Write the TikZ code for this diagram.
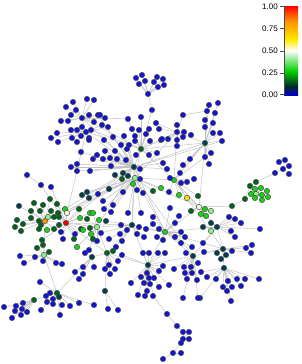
\documentclass[tikz,border=0pt]{standalone}
\usepackage{fontspec}
\setmainfont{Liberation Sans}
\usetikzlibrary{backgrounds}

\definecolor{nB}{RGB}{20,20,215}
\definecolor{nT}{RGB}{0,62,82}
\definecolor{nD}{RGB}{0,100,30}
\definecolor{nG}{RGB}{25,210,25}
\definecolor{nL}{RGB}{135,245,135}
\definecolor{nP}{RGB}{238,250,212}
\definecolor{nY}{RGB}{250,225,0}
\definecolor{nO}{RGB}{255,150,0}
\definecolor{nR}{RGB}{240,0,0}
\definecolor{cbB}{RGB}{0,0,200}
\definecolor{cbK}{RGB}{0,45,35}
\definecolor{cbG}{RGB}{0,210,0}
\definecolor{cbY}{RGB}{255,235,0}
\definecolor{cbO}{RGB}{255,140,0}
\definecolor{cbR}{RGB}{255,0,0}
\pgfdeclareverticalshading{cbar}{100bp}{color(0bp)=(cbB); color(25bp)=(cbB); color(30bp)=(cbK); color(38.5bp)=(cbG); color(50bp)=(white); color(56bp)=(cbY); color(67bp)=(cbO); color(75bp)=(cbR); color(100bp)=(cbR)}

\begin{document}
\begin{tikzpicture}[x=1pt, y=-1pt,
  dot/.style={circle,draw=black!75,line width=0.45pt,inner sep=0pt,minimum size=5.4pt},
  edge/.style={draw=black!25,line width=0.45pt},
  ticklab/.style={anchor=east,inner sep=0pt,font=\fontsize{8}{9}\selectfont}]
  \useasboundingbox (0,0) rectangle (302,364);

  % colour bar
  \shade[shading=cbar] (284,6) rectangle (298,95);
  \draw[black!70,line width=0.4pt] (284,6) -- (284,95);
  \foreach \v/\y in {1.00/6.5, 0.75/28.6, 0.50/50.7, 0.25/72.8, 0.00/94.6}{
    \draw[black!70,line width=0.4pt] (280,\y) -- (284,\y);
    \node[ticklab] (lab\v) at (278,\y) {\v};
  }

  % clusters, first node of each list is its hub
  \foreach \x/\y/\c [count=\i] in {148/94/B, 136/78/B, 142/75/B, 145/81/B, 139/84/B, 157/77/B, 163/79/B, 154/82/B, 164/85/B, 158/87/B}
    \node[dot,fill=n\c] (top\i) at (\x,\y) {};
  \foreach \x/\y/\c [count=\i] in {82/118/B, 73/102/B, 87/99/B, 94/100/B, 66/107/B, 76/110/B, 71/115/B, 89/115/B, 98/115/B, 61/121/B, 68/121/B, 94/122/B, 100/115/B, 105/118/B}
    \node[dot,fill=n\c] (ula\i) at (\x,\y) {};
  \foreach \x/\y/\c [count=\i] in {86/132/B, 82/127/B, 71/130/B, 77/130/B, 91/130/B, 57/133/B, 51/138/B, 81/136/B, 72/138/B, 89/138/B, 58/142/B, 77/142/B, 89/140/B, 102/125/B, 108/127/B}
    \node[dot,fill=n\c] (ulb\i) at (\x,\y) {};
  \foreach \x/\y/\c [count=\i] in {134/167/T, 113/137/B, 124/136/B, 104/140/B, 121/145/B, 129/145/B, 127/149/B, 105/151/B, 115/151/B, 103/159/B, 110/158/B, 117/159/B, 126/160/B, 111/166/B, 97/155/B, 93/159/B, 81/152/B, 140/169/B, 123/173/T, 128/176/T, 115/175/T, 122/179/D, 140/179/B, 163/163/B, 167/169/B, 77/164/B, 71/167/B, 77/171/B, 90/171/B}
    \node[dot,fill=n\c] (cen\i) at (\x,\y) {};
  \foreach \x/\y/\c [count=\i] in {141/149/D, 135/141/B, 150/141/B, 136/155/B, 149/155/B, 157/153/B, 161/140/B, 132/129/B, 139/130/B, 149/129/B, 135/136/B, 146/134/B, 128/119/B, 141/117/B, 152/110/B}
    \node[dot,fill=n\c] (mid\i) at (\x,\y) {};
  \foreach \x/\y/\c [count=\i] in {177/132/B, 177/125/B, 184/132/B, 191/135/B, 183/137/B, 162/139/B, 168/139/B, 177/140/B, 177/146/B, 183/115/B, 156/123/B, 159/129/B}
    \node[dot,fill=n\c] (rt\i) at (\x,\y) {};
  \foreach \x/\y/\c [count=\i] in {205/143/T, 209/105/B, 218/103/B, 207/111/B, 215/113/B, 205/120/B, 213/123/B, 205/127/B, 213/133/B, 220/133/B, 222/141/B, 211/153/B, 205/157/B, 209/164/B, 190/159/B, 183/165/B}
    \node[dot,fill=n\c] (ne\i) at (\x,\y) {};
  \foreach \x/\y/\c [count=\i] in {135/178/L, 133/184/G, 109/189/T, 123/192/B, 137/190/B, 143/193/B, 153/191/D, 161/188/G, 87/192/T, 82/195/T, 89/198/T, 98/194/B, 103/201/B, 113/205/B, 104/209/B, 111/212/B, 128/213/B, 141/213/B}
    \node[dot,fill=n\c] (lg\i) at (\x,\y) {};
  \foreach \x/\y/\c [count=\i] in {174/180/G, 181/183/B, 187/182/B, 180/173/B, 170/178/B, 169/192/B, 179/195/G, 187/198/Y, 194/179/B, 198/196/D}
    \node[dot,fill=n\c] (gm\i) at (\x,\y) {};
  \foreach \x/\y/\c [count=\i] in {199/207/P, 191/211/D, 205/209/G, 211/211/L, 201/214/G, 206/216/G, 232/206/D}
    \node[dot,fill=n\c] (pl\i) at (\x,\y) {};
  \foreach \x/\y/\c [count=\i] in {250/186/D, 256/182/D, 255/189/G, 261/188/G, 267/191/G, 251/194/G, 256/194/L, 262/195/G, 268/197/G, 255/198/G, 262/200/G, 245/199/D}
    \node[dot,fill=n\c] (rg\i) at (\x,\y) {};
  \foreach \x/\y/\c [count=\i] in {283/169/B, 279/162/B, 285/160/B, 289/166/B, 289/174/B, 275/173/B}
    \node[dot,fill=n\c] (fr\i) at (\x,\y) {};
  \foreach \x/\y/\c [count=\i] in {165/232/G, 153/224/B, 159/229/B, 146/229/B, 175/223/B, 181/232/B, 185/237/B, 157/237/B, 163/240/B, 175/237/B, 181/243/B, 192/247/B, 170/208/B, 179/216/B, 153/217/B}
    \node[dot,fill=n\c] (lc\i) at (\x,\y) {};
  \foreach \x/\y/\c [count=\i] in {132/225/T, 106/221/T, 121/225/B, 127/230/B, 139/227/B, 120/234/B, 122/241/B, 137/234/B, 144/237/B, 116/247/B, 109/239/B, 101/233/B}
    \node[dot,fill=n\c] (lt\i) at (\x,\y) {};
  \foreach \x/\y/\c [count=\i] in {217/227/T, 211/223/T, 203/227/T, 211/231/L, 229/217/B, 235/219/B, 241/223/B, 231/231/B, 235/237/B, 260/229/B, 203/243/B}
    \node[dot,fill=n\c] (rl\i) at (\x,\y) {};
  \foreach \x/\y/\c [count=\i] in {223/249/T, 217/253/T, 226/255/T, 221/259/T, 232/251/B, 246/248/B, 252/245/B, 251/253/B, 204/252/B}
    \node[dot,fill=n\c] (tc\i) at (\x,\y) {};
  \foreach \x/\y/\c [count=\i] in {224/268/T, 201/272/B, 207/277/B, 216/279/B, 228/281/B, 237/279/B, 245/279/B, 259/279/B, 223/287/B, 232/287/B, 241/286/B, 227/291/B, 231/301/B, 200/298/B}
    \node[dot,fill=n\c] (br\i) at (\x,\y) {};
  \foreach \x/\y/\c [count=\i] in {148/265/T, 143/253/B, 149/253/B, 158/253/B, 165/253/B, 163/266/B, 159/271/B, 147/273/B, 141/277/B, 149/278/B, 154/278/B, 144/283/B, 150/284/B, 159/287/B, 169/285/B, 131/283/B, 147/291/B, 138/295/B, 145/296/B, 153/296/B, 122/255/B}
    \node[dot,fill=n\c] (bc\i) at (\x,\y) {};
  \foreach \x/\y/\c [count=\i] in {167/314/B, 177/326/B}
    \node[dot,fill=n\c] (ch\i) at (\x,\y) {};
  \foreach \x/\y/\c [count=\i] in {183/339/B, 183/332/B, 189/332/B, 189/339/B, 181/343/B}
    \node[dot,fill=n\c] (tl\i) at (\x,\y) {};
  \foreach \x/\y/\c [count=\i] in {173/353/B, 181/353/B, 163/359/B}
    \node[dot,fill=n\c] (tb\i) at (\x,\y) {};
  \foreach \x/\y/\c [count=\i] in {193/256/T, 186/253/B, 174/269/B, 184/267/B, 191/267/B, 198/263/B, 185/273/B, 192/273/B, 187/279/B, 197/280/B, 183/298/B, 198/298/B}
    \node[dot,fill=n\c] (rb\i) at (\x,\y) {};
  \foreach \x/\y/\c [count=\i] in {107/253/D, 113/251/D, 109/265/B, 105/269/B, 115/269/B, 110/274/B, 118/261/B, 105/291/T}
    \node[dot,fill=n\c] (lb\i) at (\x,\y) {};
  \foreach \x/\y/\c [count=\i] in {108/309/B, 118/310/B}
    \node[dot,fill=n\c] (lz\i) at (\x,\y) {};
  \foreach \x/\y/\c [count=\i] in {45/221/O, 34/203/D, 43/205/D, 50/199/D, 31/211/D, 40/211/D, 51/211/D, 31/218/D, 17/220/D, 23/224/D, 15/227/D, 21/231/D, 39/221/D, 41/225/D, 47/230/G, 39/229/D, 48/217/L, 19/206/T, 54/229/D}
    \node[dot,fill=n\c] (og\i) at (\x,\y) {};
  \foreach \x/\y/\c [count=\i] in {66/223/R, 57/204/D, 58/213/D, 65/209/G, 67/213/P, 79/209/D, 54/217/D, 59/217/D, 59/225/D, 61/232/B, 63/239/B, 74/239/D, 75/234/B, 80/218/G, 90/213/G, 81/229/D, 42/240/D, 51/187/B, 41/185/B}
    \node[dot,fill=n\c] (rd\i) at (\x,\y) {};
  \node[dot,fill=nB] (lf1) at (27,175) {};
  \foreach \x/\y/\c [count=\i] in {97/227/L, 99/220/G, 93/213/G, 87/219/D, 83/230/G, 90/228/D, 91/234/G, 93/239/D, 89/250/B, 77/247/G, 97/241/B}
    \node[dot,fill=n\c] (gl\i) at (\x,\y) {};
  \foreach \x/\y/\c [count=\i] in {44/255/L, 20/256/B, 35/257/B, 24/263/B, 49/252/D, 43/261/B, 56/263/B, 62/264/B, 43/245/D, 37/248/D}
    \node[dot,fill=n\c] (hh\i) at (\x,\y) {};
  \foreach \x/\y/\c [count=\i] in {92/257/T, 85/253/B, 83/267/B, 94/267/B, 75/272/B, 83/274/B, 79/279/B}
    \node[dot,fill=n\c] (ii\i) at (\x,\y) {};
  \foreach \x/\y/\c [count=\i] in {57/293/D, 50/293/B, 46/296/B, 59/297/T, 53/299/B, 47/302/B, 53/304/B, 62/305/B, 70/306/B, 79/303/B, 94/305/B, 60/315/B, 41/310/B, 40/282/B}
    \node[dot,fill=n\c] (ff\i) at (\x,\y) {};
  \foreach \x/\y/\c [count=\i] in {34/300/D, 4/307/B, 16/306/B, 23/303/B, 15/311/B, 22/309/B, 27/312/B, 21/315/B, 12/318/B}
    \node[dot,fill=n\c] (gg\i) at (\x,\y) {};

  \begin{scope}[on background layer]
    % hub to members
    \foreach \g/\n in {top/10, ula/14, ulb/15, cen/29, mid/15, rt/12, ne/16, lg/18, gm/10, pl/7, rg/12, fr/6, lc/15, lt/12, rl/11, tc/9, br/14, bc/21, ch/2, tl/5, tb/3, rb/12, lb/8, og/19, rd/19, gl/11, hh/10, ii/7, ff/14, gg/9}
      \foreach \i in {2,...,\n}
        \draw[edge] (\g1) -- (\g\i);
    % links between clusters
    \foreach \a/\b in {top1/mid15, ula1/ulb1, ula1/cen1, ulb1/cen1, ulb1/mid1, ula14/mid13, mid1/cen1, mid1/rt1, rt1/ne1, rt10/ne4, ne1/gm1, ne1/cen1, cen1/lg1, lg1/gm1, gm1/pl1, gm8/pl1, pl7/rg12, rg2/fr6, pl1/rl1, rl1/tc1, tc1/br1, lg1/lc1, lg1/lt1, lc1/bc1, lc1/rb1, bc1/rb1, rb1/tc1, bc20/ch1, ch2/tl2, tl5/tb1, lt1/lb1, lb1/gl1, gl1/rd1, og1/rd1, rd5/lg1, rd5/cen1, og1/hh1, hh1/ff1, ff1/gg1, ii1/ff1, ii1/lb1, lb8/lz1, lb8/lz2, lb1/bc1, lf1/rd19, cen1/rd1, og1/cen1, lt1/lc1, cen1/lc1, mid1/gm1, ne1/pl1, lg1/og1, ulb1/rd5, gm1/rl1, pl1/lc1, cen1/ne11, mid1/ne1, lg1/rb1, rd1/lt1, gl1/lt1, lc1/rl1, ula1/mid1, cen1/lt1, cen1/gl1, mid1/lg1, rt1/gm1, lc1/tc1, bc1/lt1, rb1/rl1, lg1/pl1, ula9/cen1, ulb5/mid1, gm1/tc1, rt1/lg1, lb1/rd1, ne13/gm1}
      \draw[edge] (\a) -- (\b);
  \end{scope}
\end{tikzpicture}
\end{document}
